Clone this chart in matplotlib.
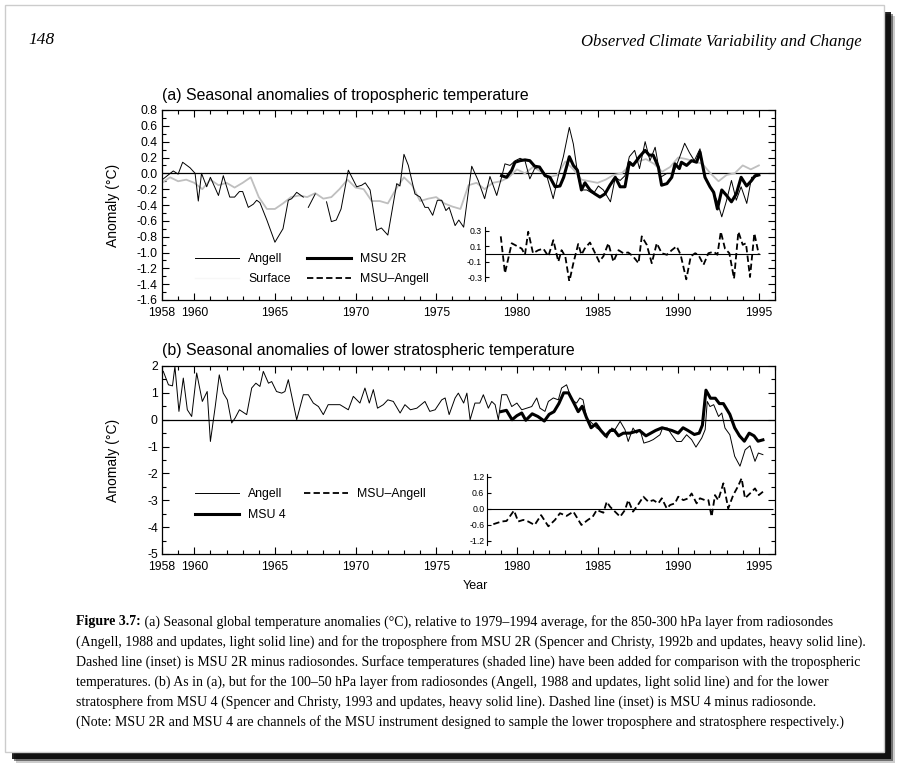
import numpy as np
import matplotlib
matplotlib.use('Agg')
import matplotlib.pyplot as plt
from matplotlib.patches import Rectangle
from matplotlib.lines import Line2D
from matplotlib.ticker import MultipleLocator, FixedLocator

plt.rcParams['font.family'] = ['Liberation Sans', 'DejaVu Sans']
plt.rcParams['axes.unicode_minus'] = False

# ---- (a) troposphere, values ----
trop_angell_yr = [1958.08, 1958.7, 1959.0, 1959.28, 1959.74, 1960.05, 1960.25, 1960.45, 1960.77, 1961.0,
                  1961.5, 1961.8, 1962.2, 1962.5, 1962.8, 1963.0, 1963.35, 1963.66, 1963.87, 1964.07,
                  1964.5, 1965.0, 1965.5, 1965.83, 1966.04, 1966.35, 1966.76, 1966.9, 1967.07, 1967.5,
                  1967.8, 1968.2, 1968.5, 1968.8, 1969.1, 1969.55, 1970.07, 1970.38, 1970.6, 1970.9,
                  1971.3, 1971.6, 1972.0, 1972.55, 1972.75, 1973.0, 1973.27, 1973.68, 1974.0, 1974.3,
                  1974.5, 1974.78, 1975.07, 1975.34, 1975.6, 1975.8, 1976.17, 1976.4, 1976.7, 1977.2,
                  1977.6, 1978.0, 1978.33, 1978.75, 1979.05, 1979.26, 1979.57, 1979.9, 1980.2, 1980.5,
                  1980.8, 1981.1, 1981.4, 1981.85, 1982.25, 1982.57, 1982.88, 1983.25, 1983.5, 1983.8,
                  1984.0, 1984.33, 1984.74, 1985.05, 1985.36, 1985.8, 1986.1, 1986.4, 1986.7, 1986.97,
                  1987.3, 1987.6, 1987.95, 1988.25, 1988.57, 1988.9, 1989.3, 1989.7, 1990.1, 1990.4,
                  1990.7, 1991.0, 1991.35, 1991.66, 1991.97, 1992.4, 1992.7, 1993.0, 1993.3, 1993.6,
                  1993.9, 1994.25, 1994.55, 1994.76, 1994.97]
trop_angell = [-0.07, 0.03, -0.01, 0.14, 0.07, 0.0, -0.35, 0.0, -0.17, -0.05,
               -0.28, -0.03, -0.30, -0.30, -0.23, -0.23, -0.43, -0.39, -0.34, -0.37,
               -0.59, -0.87, -0.70, -0.34, -0.32, -0.24, -0.30, np.nan, -0.43, -0.26,
               np.nan, -0.36, -0.61, -0.59, -0.45, 0.04, -0.17, -0.15, -0.12, -0.21,
               -0.72, -0.69, -0.78, -0.13, -0.16, 0.24, 0.10, -0.26, -0.30, -0.43,
               -0.43, -0.53, -0.34, -0.34, -0.47, -0.43, -0.66, -0.59, -0.68, 0.09,
               -0.09, -0.32, -0.04, -0.28, -0.05, 0.12, 0.10, 0.16, 0.19, 0.16,
               -0.07, 0.06, 0.08, -0.03, -0.32, -0.03, 0.21, 0.58, 0.37, -0.05,
               -0.21, -0.21, -0.26, -0.16, -0.21, -0.36, -0.05, -0.09, -0.03, 0.21,
               0.29, 0.06, 0.40, 0.16, 0.33, -0.05, 0.0, 0.0, 0.21, 0.38,
               0.26, 0.16, 0.31, -0.05, -0.17, -0.34, -0.55, -0.34, -0.09, -0.34,
               -0.17, -0.38, -0.05, -0.05, -0.03]

msu2r_yr = [1979.05, 1979.36, 1979.68, 1979.88, 1980.2, 1980.5, 1980.8, 1981.1, 1981.4, 1981.75,
            1982.05, 1982.37, 1982.67, 1982.9, 1983.25, 1983.5, 1983.75, 1984.0, 1984.22, 1984.53,
            1984.84, 1985.15, 1985.46, 1985.77, 1986.1, 1986.4, 1986.7, 1986.97, 1987.2, 1987.6,
            1987.95, 1988.2, 1988.45, 1988.77, 1988.97, 1989.3, 1989.6, 1989.8, 1990.07, 1990.2,
            1990.52, 1990.83, 1991.14, 1991.35, 1991.66, 1991.97, 1992.2, 1992.43, 1992.7, 1993.0,
            1993.3, 1993.6, 1993.9, 1994.24, 1994.55, 1994.76, 1995.0]
msu2r = [-0.03, -0.05, 0.04, 0.14, 0.16, 0.17, 0.16, 0.09, 0.08, -0.03,
         -0.05, -0.17, -0.16, -0.05, 0.21, 0.10, 0.04, -0.21, -0.12, -0.21,
         -0.26, -0.30, -0.26, -0.15, -0.05, -0.17, -0.17, 0.14, 0.10, 0.21,
         0.29, 0.23, 0.23, 0.08, -0.15, -0.13, -0.05, 0.12, 0.06, 0.14,
         0.10, 0.16, 0.14, 0.27, -0.05, -0.17, -0.24, -0.45, -0.21, -0.28,
         -0.36, -0.26, -0.05, -0.16, -0.09, -0.03, -0.02]

surface_yr = [1958.0, 1958.5, 1959.0, 1959.5, 1960.0, 1960.5, 1961.0, 1961.5, 1962.0, 1962.5,
              1963.0, 1963.5, 1964.0, 1964.5, 1965.0, 1965.5, 1966.0, 1966.5, 1967.0, 1967.5,
              1968.0, 1968.5, 1969.0, 1969.5, 1970.0, 1970.5, 1971.0, 1971.5, 1972.0, 1972.5,
              1973.0, 1973.5, 1974.0, 1974.5, 1975.0, 1975.5, 1976.0, 1976.5, 1977.0, 1977.5,
              1978.0, 1978.5, 1979.0, 1979.5, 1980.0, 1980.5, 1981.0, 1981.5, 1982.0, 1982.5,
              1983.0, 1983.5, 1984.0, 1984.5, 1985.0, 1985.5, 1986.0, 1986.5, 1987.0, 1987.5,
              1988.0, 1988.5, 1989.0, 1989.5, 1990.0, 1990.5, 1991.0, 1991.5, 1992.0, 1992.5,
              1993.0, 1993.5, 1994.0, 1994.5, 1995.0]
surface = [-0.12, -0.05, -0.10, -0.08, -0.12, -0.20, -0.08, -0.15, -0.12, -0.18,
           -0.12, -0.05, -0.30, -0.45, -0.45, -0.38, -0.30, -0.28, -0.30, -0.25,
           -0.32, -0.30, -0.20, -0.08, -0.18, -0.20, -0.35, -0.35, -0.38, -0.20,
           -0.05, -0.15, -0.35, -0.32, -0.30, -0.38, -0.42, -0.45, -0.15, -0.12,
           -0.20, -0.12, -0.10, -0.05, 0.05, 0.00, 0.08, 0.02, -0.05, -0.02,
           0.15, 0.05, -0.08, -0.10, -0.12, -0.08, -0.02, 0.00, 0.10, 0.15,
           0.18, 0.12, 0.02, 0.08, 0.20, 0.18, 0.15, 0.12, 0.00, -0.10,
           -0.02, 0.00, 0.10, 0.05, 0.10]

diff2r_yr = [1979.0, 1979.26, 1979.68, 1980.3, 1980.5, 1980.7, 1981.0, 1981.33, 1981.64, 1981.95,
             1982.26, 1982.57, 1982.77, 1983.0, 1983.25, 1983.5, 1983.8, 1984.0, 1984.2, 1984.53,
             1984.85, 1985.1, 1985.36, 1985.67, 1985.98, 1986.3, 1986.6, 1986.9, 1987.2, 1987.54,
             1987.74, 1988.05, 1988.36, 1988.67, 1988.98, 1989.3, 1989.6, 1989.9, 1990.15, 1990.5,
             1990.78, 1991.05, 1991.25, 1991.57, 1991.87, 1992.2, 1992.43, 1992.64, 1992.9, 1993.17,
             1993.46, 1993.73, 1994.0, 1994.2, 1994.45, 1994.72, 1995.0]
diff2r = [0.23, -0.25, 0.14, 0.07, -0.01, 0.29, 0.01, 0.05, 0.07, -0.03,
          0.18, -0.10, 0.05, -0.03, -0.36, -0.12, 0.13, -0.01, 0.07, 0.15,
          0.01, -0.10, -0.03, 0.14, -0.10, 0.05, 0.01, 0.02, -0.03, -0.12,
          0.23, 0.12, -0.12, 0.14, 0.01, -0.01, 0.05, 0.10, -0.01, -0.33,
          -0.03, 0.01, -0.01, -0.14, 0.01, 0.03, -0.01, 0.29, 0.07, 0.01,
          -0.32, 0.29, 0.12, 0.14, -0.30, 0.27, -0.01]

# ---- (b) lower stratosphere ----
strat_angell_yr = [1958.08, 1958.4, 1958.65, 1958.8, 1959.05, 1959.32, 1959.57, 1959.84, 1960.15, 1960.5,
                   1960.8, 1961.0, 1961.3, 1961.55, 1961.8, 1962.05, 1962.32, 1962.53, 1962.8, 1963.25,
                   1963.56, 1963.82, 1964.07, 1964.28, 1964.6, 1964.8, 1965.1, 1965.42, 1965.62, 1965.83,
                   1966.35, 1966.76, 1967.07, 1967.38, 1967.7, 1968.0, 1968.3, 1968.6, 1969.03, 1969.55,
                   1969.86, 1970.27, 1970.58, 1970.85, 1971.1, 1971.36, 1971.72, 1972.0, 1972.34, 1972.76,
                   1973.06, 1973.4, 1973.8, 1974.3, 1974.6, 1974.93, 1975.34, 1975.55, 1975.8, 1976.17,
                   1976.37, 1976.7, 1976.9, 1977.1, 1977.4, 1977.7, 1977.92, 1978.23, 1978.44, 1978.65,
                   1978.85, 1979.06, 1979.37, 1979.68, 1980.0, 1980.3, 1980.6, 1980.92, 1981.23, 1981.43,
                   1981.74, 1981.95, 1982.26, 1982.57, 1982.77, 1983.08, 1983.4, 1983.7, 1983.9, 1984.1,
                   1984.33, 1984.64, 1984.95, 1985.26, 1985.57, 1985.88, 1986.08, 1986.4, 1986.7, 1986.9,
                   1987.2, 1987.42, 1987.63, 1987.87, 1988.2, 1988.45, 1988.87, 1989.03, 1989.33, 1989.6,
                   1989.9, 1990.2, 1990.52, 1990.83, 1991.1, 1991.46, 1991.67, 1991.8, 1991.97, 1992.2,
                   1992.5, 1992.7, 1992.9, 1993.2, 1993.5, 1993.83, 1994.15, 1994.45, 1994.76, 1994.97,
                   1995.25]
strat_angell = [1.80, 1.30, 1.26, 1.98, 0.31, 1.55, 0.37, 0.12, 1.74, 0.68,
                1.05, -0.81, 0.49, 1.67, 0.99, 0.74, -0.12, 0.06, 0.37, 0.19,
                1.18, 1.36, 1.24, 1.80, 1.36, 1.42, 1.05, 0.99, 1.05, 1.49,
                0.0, 0.93, 0.93, 0.62, 0.49, 0.19, 0.56, 0.56, 0.56, 0.37,
                0.87, 0.62, 1.18, 0.62, 1.12, 0.43, 0.56, 0.74, 0.68, 0.25,
                0.56, 0.37, 0.43, 0.68, 0.31, 0.37, 0.74, 0.81, 0.19, 0.81,
                0.99, 0.62, 0.99, 0.0, 0.62, 0.62, 0.93, 0.43, 0.68, 0.56,
                0.0, 0.93, 0.93, 0.49, 0.62, 0.37, 0.43, 0.49, 0.81, 0.43,
                0.31, 0.68, 0.81, 0.74, 1.18, 1.30, 0.74, 0.62, 0.81, 0.74,
                0.06, -0.12, -0.31, -0.43, -0.68, -0.31, -0.37, -0.06, -0.37, -0.81,
                -0.31, -0.50, -0.37, -0.87, -0.81, -0.74, -0.56, -0.31, -0.31, -0.56,
                -0.81, -0.81, -0.56, -0.74, -1.02, -0.68, -0.37, 0.68, 0.49, 0.56,
                0.12, 0.25, -0.31, -0.56, -1.36, -1.73, -1.12, -0.97, -1.55, -1.24,
                -1.30]

msu4_yr = [1979.0, 1979.35, 1979.7, 1980.0, 1980.3, 1980.55, 1980.95, 1981.3, 1981.7, 1982.0,
           1982.3, 1982.6, 1982.9, 1983.2, 1983.55, 1983.8, 1984.05, 1984.3, 1984.6, 1984.9,
           1985.2, 1985.5, 1985.8, 1986.05, 1986.3, 1986.6, 1987.0, 1987.3, 1987.6, 1988.0,
           1988.3, 1988.6, 1989.0, 1989.3, 1989.6, 1990.0, 1990.3, 1990.6, 1991.0, 1991.3,
           1991.5, 1991.72, 1992.0, 1992.3, 1992.55, 1992.8, 1993.2, 1993.5, 1993.8, 1994.1,
           1994.4, 1994.7, 1994.95, 1995.25]
msu4 = [0.30, 0.35, 0.0, 0.15, 0.25, -0.02, 0.22, 0.12, -0.05, 0.20,
        0.30, 0.60, 1.00, 1.00, 0.60, 0.30, 0.50, 0.10, -0.30, -0.15,
        -0.40, -0.60, -0.40, -0.40, -0.60, -0.50, -0.50, -0.45, -0.40, -0.60,
        -0.50, -0.40, -0.30, -0.35, -0.40, -0.50, -0.30, -0.40, -0.55, -0.50,
        -0.20, 1.10, 0.80, 0.80, 0.60, 0.60, 0.20, -0.30, -0.60, -0.80,
        -0.50, -0.60, -0.80, -0.75]

diff4_yr = [1978.54, 1979.05, 1979.36, 1979.82, 1980.08, 1980.4, 1980.7, 1981.1, 1981.5, 1981.95,
            1982.36, 1982.67, 1983.08, 1983.5, 1984.0, 1984.4, 1984.7, 1984.95, 1985.36, 1985.57,
            1985.78, 1985.98, 1986.4, 1986.7, 1986.9, 1987.2, 1987.5, 1987.84, 1988.15, 1988.46,
            1988.77, 1988.98, 1989.29, 1989.5, 1989.8, 1990.0, 1990.32, 1990.63, 1990.83, 1991.14,
            1991.35, 1991.66, 1991.87, 1992.07, 1992.28, 1992.48, 1992.8, 1993.1, 1993.41, 1993.7,
            1993.93, 1994.14, 1994.45, 1994.76, 1995.0, 1995.38]
diff4 = [-0.57, -0.47, -0.45, -0.06, -0.47, -0.41, -0.47, -0.60, -0.23, -0.65,
         -0.41, -0.16, -0.26, -0.10, -0.60, -0.41, -0.29, -0.04, -0.14, 0.27,
         0.08, -0.04, -0.29, -0.04, 0.33, -0.10, 0.15, 0.46, 0.27, 0.33,
         0.21, 0.40, 0.02, 0.15, 0.21, 0.46, 0.33, 0.40, 0.58, 0.21,
         0.40, 0.33, 0.33, -0.29, 0.52, 0.33, 0.96, 0.02, 0.52, 0.84,
         1.15, 0.40, 0.58, 0.77, 0.52, 0.71]

year_ticks = [1958, 1960, 1965, 1970, 1975, 1980, 1985, 1990, 1995]

caption = [
    "(Angell, 1988 and updates, light solid line) and for the troposphere from MSU 2R (Spencer and Christy, 1992b and updates, heavy solid line).",
    "Dashed line (inset) is MSU 2R minus radiosondes. Surface temperatures (shaded line) have been added for comparison with the tropospheric",
    "temperatures. (b) As in (a), but for the 100\u201350 hPa layer from radiosondes (Angell, 1988 and updates, light solid line) and for the lower",
    "stratosphere from MSU 4 (Spencer and Christy, 1993 and updates, heavy solid line). Dashed line (inset) is MSU 4 minus radiosonde.",
    "(Note: MSU 2R and MSU 4 are channels of the MSU instrument designed to sample the lower troposphere and stratosphere respectively.)",
]

W, H = 897, 774
fig = plt.figure(figsize=(W / 100, H / 100), dpi=100)

def box(x0, y0, x1, y1):
    return [x0 / W, 1 - y1 / H, (x1 - x0) / W, (y1 - y0) / H]

# page with drop shadow
for off, a in [(11, 0.2), (9, 0.45), (7, 0.85)]:
    fig.patches.append(Rectangle((5 / W + off / W, -off / H + 22 / H), 879 / W, 747 / H,
                                 transform=fig.transFigure, color='k', alpha=a, lw=0, zorder=-3))
fig.patches.append(Rectangle((5 / W, 22 / H), 879 / W, 747 / H, transform=fig.transFigure,
                             facecolor='white', edgecolor='0.8', lw=1, zorder=-2))

serif = ['Liberation Serif', 'DejaVu Serif']
fig.text(28 / W, 1 - 40 / H, '148', family=serif, style='italic', fontsize=12.5, va='center')
fig.text(862 / W, 1 - 42 / H, 'Observed Climate Variability and Change', family=serif,
         style='italic', fontsize=12, va='center', ha='right')

ax_a = fig.add_axes(box(162, 110, 775, 300))
ax_b = fig.add_axes(box(162, 366, 775, 554))
in_a = fig.add_axes(box(162, 227, 775, 281))
in_b = fig.add_axes(box(162, 474, 775, 545))

for ax in (ax_a, ax_b):
    ax.set_xlim(1958, 1996)
    ax.axhline(0, color='k', lw=0.9)
    ax.xaxis.set_major_locator(FixedLocator(year_ticks))
    ax.xaxis.set_minor_locator(MultipleLocator(1))
    ax.tick_params(which='both', direction='in', top=True, right=True, labelsize=8.8, pad=3)
    ax.tick_params(axis='x', pad=5)
    ax.tick_params(which='major', length=5, width=0.8)
    ax.tick_params(which='minor', length=3, width=0.8)
    for s in ax.spines.values():
        s.set_linewidth(0.9)

# panel (a)
ax_a.plot(surface_yr, surface, color='0.75', lw=1.3)
ax_a.plot(trop_angell_yr, trop_angell, color='k', lw=0.7)
ax_a.plot(msu2r_yr, msu2r, color='k', lw=2.2)
ax_a.set_ylim(-1.6, 0.8)
ax_a.yaxis.set_major_locator(MultipleLocator(0.2))
ax_a.yaxis.set_minor_locator(MultipleLocator(0.1))
ax_a.yaxis.set_major_formatter(lambda v, p: f"{v:.1f}")
ax_a.set_title('(a) Seasonal anomalies of tropospheric temperature', loc='left', fontsize=11.4, pad=7)
ax_a.set_ylabel('Anomaly (\u00b0C)', fontsize=10)
ax_a.yaxis.set_label_coords(-42 / 613, 0.5)

# panel (b)
ax_b.plot(strat_angell_yr, strat_angell, color='k', lw=0.7)
ax_b.plot(msu4_yr, msu4, color='k', lw=2.2)
ax_b.set_ylim(-5, 2)
ax_b.yaxis.set_major_locator(MultipleLocator(1))
ax_b.yaxis.set_minor_locator(MultipleLocator(0.5))
ax_b.set_title('(b) Seasonal anomalies of lower stratospheric temperature', loc='left', fontsize=11.4, pad=8)
ax_b.set_ylabel('Anomaly (\u00b0C)', fontsize=10)
ax_b.yaxis.set_label_coords(-42 / 613, 0.5)
ax_b.set_xlabel('Year', fontsize=9)
ax_b.xaxis.set_label_coords(313 / 613, -26 / 188)

# insets: MSU minus Angell
dash = (0, (3.5, 1.8))
for ax, x0, x1, yr, vals, lim, ticks in [
        (in_a, 1978.02, 1995.1, diff2r_yr, diff2r, (-0.352, 0.352), [-0.3, -0.1, 0.1, 0.3]),
        (in_b, 1978.15, 1995.9, diff4_yr, diff4, (-1.35, 1.31), [-1.2, -0.6, 0.0, 0.6, 1.2])]:
    ax.set_xlim(1958, 1996)
    ax.set_ylim(*lim)
    ax.patch.set_visible(False)
    for side in ('top', 'right', 'bottom'):
        ax.spines[side].set_visible(False)
    ax.spines['left'].set_position(('data', x0))
    ax.spines['left'].set_linewidth(0.8)
    ax.set_xticks([])
    ax.set_yticks(ticks)
    ax.yaxis.set_major_formatter(lambda v, p: f"{v:.1f}")
    ax.tick_params(axis='y', direction='in', length=3, width=0.8, labelsize=6.3, pad=2)
    ax.hlines(0, x0, x1, color='k', lw=0.8)
    ax.plot(yr, vals, color='k', lw=1.3, ls=dash)

# legends
h_ang = Line2D([], [], color='k', lw=0.7)
h_msu = Line2D([], [], color='k', lw=2.2)
h_sfc = Line2D([], [], color='0.97', lw=1.0)
h_dif = Line2D([], [], color='k', lw=1.3, ls=dash)
leg_kw = dict(ncol=2, frameon=False, loc='upper left', borderpad=0, borderaxespad=0,
              handlelength=3.6, handletextpad=0.75, fontsize=8.8)
ax_a.legend([h_ang, h_sfc, h_msu, h_dif], ['Angell', 'Surface', 'MSU 2R', 'MSU\u2013Angell'],
            bbox_to_anchor=(0.054, 0.245), columnspacing=1.3, labelspacing=0.6, **leg_kw)
ax_b.legend([h_ang, h_msu, h_dif], ['Angell', 'MSU 4', 'MSU\u2013Angell'],
            bbox_to_anchor=(0.054, 0.35), columnspacing=1.5, labelspacing=0.75, **leg_kw)

# caption
cap_size = 10
r = fig.canvas.get_renderer()
t = fig.text(76 / W, 1 - 622 / H, 'Figure 3.7:', family=serif, weight='bold', fontsize=cap_size, va='center')
bb = t.get_window_extent(renderer=r)
fig.text(bb.x1 / W, 1 - 622 / H,
         ' (a) Seasonal global temperature anomalies (\u00b0C), relative to 1979\u20131994 average, for the 850-300 hPa layer from radiosondes',
         family=serif, fontsize=cap_size, va='center')
for i, line in enumerate(caption):
    fig.text(76 / W, 1 - (642 + 20 * i) / H, line, family=serif, fontsize=cap_size, va='center')

fig.savefig('out.png', dpi=100)
